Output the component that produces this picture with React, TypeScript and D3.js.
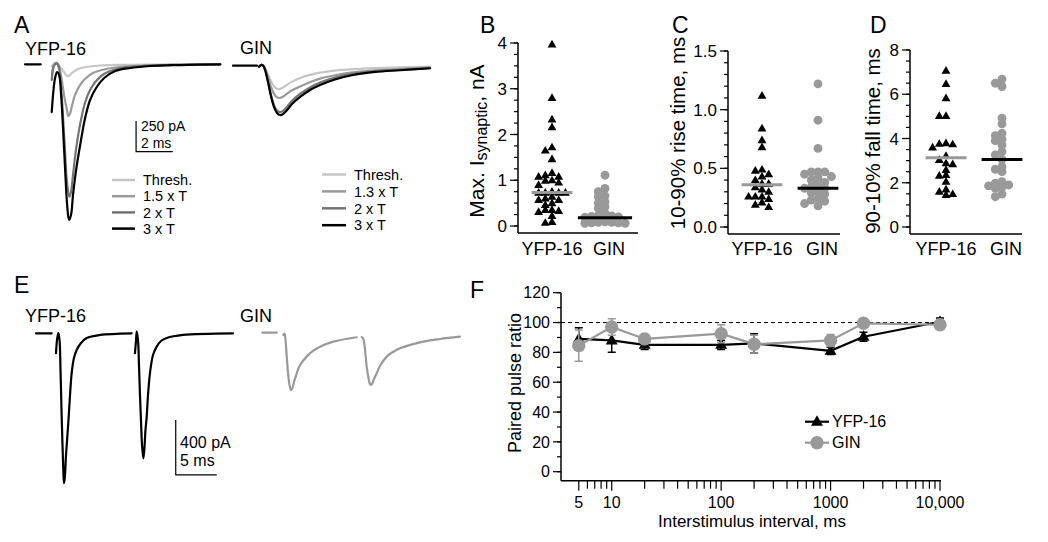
import React from 'react';
import * as d3 from 'd3';

const FONT = '"Liberation Sans", Arial, Helvetica, sans-serif';
const GRAY = '#999999';

// ---------- Panel A traces: [time ms, current pA] ----------
const A_YFP_BASE: [number, number][] = [[0, 0], [0.86, 0]];
const A_YFP_THRESH: [number, number][] = [[1.47, -14], [1.64, 11], [1.8, 2], [1.96, -30], [2.13, -63], [2.24, -87], [2.36, -95], [2.45, -87], [2.62, -63], [2.89, -38], [3.33, -22], [4.09, -10], [5.73, -4], [10.64, 0]];
const A_YFP_15T: [number, number][] = [[1.47, -95], [1.58, -6], [1.73, 11], [1.85, -14], [1.96, -87], [2.07, -193], [2.18, -291], [2.29, -372], [2.36, -421], [2.45, -405], [2.56, -340], [2.73, -250], [3.0, -169], [3.33, -112], [3.71, -71], [4.31, -42], [5.18, -22], [6.82, -8], [10.64, 0]];
const A_YFP_2T: [number, number][] = [[1.46, -128], [1.58, -14], [1.73, 7], [1.85, -30], [1.96, -169], [2.07, -413], [2.18, -698], [2.29, -959], [2.42, -1079], [2.51, -1041], [2.62, -902], [2.78, -698], [3.0, -495], [3.27, -315], [3.55, -209], [3.88, -136], [4.31, -79], [4.91, -42], [5.73, -22], [6.82, -10], [8.46, -4], [10.64, 0]];
const A_YFP_3T: [number, number][] = [[1.46, -389], [1.53, -250], [1.64, -112], [1.75, -63], [1.86, -87], [1.97, -250], [2.08, -535], [2.19, -861], [2.3, -1147], [2.4, -1269], [2.51, -1228], [2.62, -1065], [2.79, -861], [3.01, -658], [3.28, -438], [3.55, -291], [3.88, -193], [4.32, -112], [4.92, -55], [5.74, -30], [6.83, -14], [8.47, -6], [10.66, 0]];

const A_GIN_BASE: [number, number][] = [[0, 0], [1.31, 0]];
const A_GIN_TIMES = [1.42, 1.55, 1.64, 1.75, 1.91, 2.07, 2.24, 2.4, 2.56, 2.73, 2.95, 3.22, 3.66, 4.2, 4.75, 5.56, 6.55, 7.75, 9.11, 10.75];
const A_GIN_THRESH = [-5, 5, 1, -20, -70, -125, -168, -188, -190, -178, -155, -130, -100, -75, -57, -40, -28, -19, -13, -8];
const A_GIN_13T = [-6, 6, 2, -25, -90, -170, -230, -258, -263, -252, -228, -200, -170, -135, -105, -78, -55, -38, -26, -15];
const A_GIN_2T = [-8, 7, 2, -33, -127, -236, -322, -366, -378, -368, -335, -285, -230, -177, -138, -97, -65, -45, -33, -20];
const A_GIN_3T = [-8, 7, 2, -35, -133, -247, -337, -385, -402, -394, -361, -312, -255, -198, -157, -112, -76, -51, -37, -21];

const A_YFP_LEGEND = ['Thresh.', '1.5 x T', '2 x T', '3 x T'];
const A_GIN_LEGEND = ['Thresh.', '1.3 x T', '2 x T', '3 x T'];
const A_SHADES = ['#c6c6c6', '#9a9a9a', '#747474', '#000000'];

// ---------- Panel E traces ----------
const E_YFP_BASE: [number, number][] = [[0, 0], [1.91, 0]];
const E_YFP_P1: [number, number][] = [[2.44, -145], [2.56, -49], [2.72, 4], [2.87, -49], [2.99, -267], [3.11, -558], [3.23, -812], [3.33, -994], [3.41, -1090], [3.51, -1052], [3.66, -885], [3.94, -652], [4.15, -449], [4.35, -289], [4.63, -180], [4.96, -121], [5.49, -70], [6.18, -34], [7.8, -12], [11.67, 0]];
const E_YFP_P2: [number, number][] = [[12.07, -145], [12.2, -49], [12.28, 12], [12.44, -49], [12.56, -230], [12.68, -449], [12.8, -630], [12.93, -812], [13.09, -909], [13.21, -848], [13.35, -703], [13.5, -606], [13.66, -449], [13.9, -289], [14.27, -158], [14.72, -97], [15.24, -56], [15.94, -34], [17.93, -12], [24.02, 0]];
const E_GIN_BASE: [number, number][] = [[0, 0], [1.76, 0]];
const E_GIN_P1: [number, number][] = [[2.56, -17], [2.71, -6], [2.83, -53], [2.98, -174], [3.13, -286], [3.32, -380], [3.5, -417], [3.68, -402], [3.87, -358], [4.2, -295], [4.6, -235], [5.41, -174], [6.18, -133], [7.04, -102], [8.66, -65], [11.51, -33]];
const E_GIN_P2: [number, number][] = [[12.12, -33], [12.28, -39], [12.46, -89], [12.73, -247], [12.95, -329], [13.13, -373], [13.26, -380], [13.44, -366], [13.62, -337], [13.95, -295], [14.35, -242], [15.17, -174], [15.94, -140], [16.79, -113], [19.23, -70], [21.67, -46], [24.11, -29]];

// ---------- Panels B, C, D ----------
const CATEGORIES = ['YFP-16', 'GIN'];
const B_YFP = [3.97, 2.8, 2.33, 2.16, 1.72, 1.65, 1.46, 1.16, 1.11, 1.08, 1.08, 1.0, 0.99, 0.95, 0.9, 0.75, 0.73, 0.73, 0.73, 0.73, 0.64, 0.6, 0.57, 0.57, 0.5, 0.46, 0.35, 0.35, 0.33, 0.31, 0.22, 0.09, 0.07];
const B_GIN = [1.11, 0.82, 0.75, 0.66, 0.64, 0.53, 0.5, 0.42, 0.39, 0.28, 0.24, 0.22, 0.21, 0.2, 0.19, 0.09, 0.08, 0.08, 0.07, 0.07, 0.06, 0.06];
const B_MEDIANS = [0.73, 0.18];
const C_YFP = [1.12, 0.84, 0.74, 0.68, 0.49, 0.48, 0.45, 0.43, 0.4, 0.37, 0.37, 0.34, 0.32, 0.3, 0.26, 0.26, 0.26, 0.24, 0.21, 0.19, 0.17];
const C_GIN = [1.22, 0.91, 0.67, 0.47, 0.47, 0.47, 0.45, 0.43, 0.42, 0.4, 0.38, 0.37, 0.34, 0.33, 0.33, 0.3, 0.29, 0.28, 0.24, 0.23, 0.22, 0.2, 0.18];
const C_MEDIANS = [0.36, 0.33];
const D_YFP = [7.07, 6.47, 5.82, 5.02, 5.02, 3.79, 3.76, 3.74, 3.6, 3.21, 3.03, 2.88, 2.84, 2.58, 2.35, 2.32, 2.05, 1.7, 1.6, 1.49, 1.45];
const D_GIN = [6.68, 6.5, 6.35, 4.92, 4.66, 4.24, 4.13, 3.97, 3.9, 3.71, 3.41, 3.26, 3.06, 2.73, 2.61, 2.5, 2.05, 1.98, 1.9, 1.86, 1.8, 1.75, 1.49, 1.37];
const D_MEDIANS = [3.13, 3.05];

// ---------- Panel F ----------
const F_INTERVALS = [5, 10, 20, 100, 200, 1000, 2000, 10000];
const F_YFP_MEAN = [89, 88, 85, 85, 86, 81, 90.5, 100.5];
const F_YFP_SEM = [7.5, 8, 3, 3, 6.5, 2.5, 3, 2.5];
const F_GIN_MEAN = [84.5, 97, 89, 92.5, 85.5, 88, 99.5, 98.5];
const F_GIN_SEM = [10.5, 5.5, 3, 6, 6, 4, 2, 3];
const F_XLABELS: [number, string][] = [[5, '5'], [10, '10'], [100, '100'], [1000, '1000'], [10000, '10,000']];
const F_YTICKS = [0, 20, 40, 60, 80, 100, 120];

type Pt = [number, number];

function Trace({ data, xs, ys, color, w = 2.2 }: { data: Pt[]; xs: any; ys: any; color: string; w?: number }) {
  const line = d3.line<Pt>().x(d => xs(d[0])).y(d => ys(d[1])).curve(d3.curveCatmullRom.alpha(0.5));
  return <path d={line(data) || ''} fill="none" stroke={color} strokeWidth={w} strokeLinejoin="round" strokeLinecap="round" />;
}

const zip = (t: number[], v: number[]): Pt[] => t.map((x, i) => [x, v[i]]);

function dodge(vals: number[], y: (v: number) => number, minDy: number) {
  const idx = vals.map((_, i) => i).sort((a, b) => vals[b] - vals[a]);
  const placed: { o: number; y: number }[] = [];
  const out: { o: number; y: number }[] = new Array(vals.length);
  for (const i of idx) {
    const py = y(vals[i]);
    for (let k = 0; k < 30; k++) {
      const o = k === 0 ? 0 : k % 2 === 1 ? -Math.ceil(k / 2) : Math.ceil(k / 2);
      if (!placed.some(p => p.o === o && Math.abs(p.y - py) < minDy)) {
        placed.push({ o, y: py });
        out[i] = { o, y: py };
        break;
      }
    }
  }
  return out;
}

const triPath = (size: number) => d3.symbol(d3.symbolTriangle, size)() || '';
const circPath = (size: number) => d3.symbol(d3.symbolCircle, size)() || '';

interface DotCfg {
  letter: string; letterX: number;
  axisX: number; axisRight: number; yDomain: [number, number]; yRange: [number, number];
  majors: number[]; minorStep: number; fmt: (v: number) => string;
  centers: [number, number]; groups: number[][]; medians: number[];
  label: React.ReactNode; labelX: number; labelY: number; labelSize: number;
}

function DotPanel({ c }: { c: DotCfg }) {
  const y = d3.scaleLinear().domain(c.yDomain).range(c.yRange);
  const x = d3.scalePoint<string>().domain(CATEGORIES).range(c.centers);
  const minors = d3.range(c.yDomain[0], c.yDomain[1] + 1e-9, c.minorStep);
  const bottom = c.yRange[0] + 7;
  const step = 6.7;
  return (
    <g>
      <text x={c.letterX} y={33} fontSize={23} fontFamily={FONT}>{c.letter}</text>
      <line x1={c.axisX} x2={c.axisX} y1={c.yRange[1]} y2={bottom} stroke="#000" strokeWidth={1.5} />
      <line x1={c.axisX} x2={c.axisRight} y1={bottom} y2={bottom} stroke="#000" strokeWidth={1.5} />
      {minors.map((v, i) => <line key={'m' + i} x1={c.axisX - 4} x2={c.axisX} y1={y(v)} y2={y(v)} stroke="#000" strokeWidth={1.2} />)}
      {c.majors.map((v, i) => (
        <g key={'M' + i}>
          <line x1={c.axisX - 8} x2={c.axisX} y1={y(v)} y2={y(v)} stroke="#000" strokeWidth={1.2} />
          <text x={c.axisX - 11} y={y(v)} dy="0.36em" textAnchor="end" fontSize={17} fontFamily={FONT}>{c.fmt(v)}</text>
        </g>
      ))}
      {CATEGORIES.map((cat, gi) => {
        const vals = c.groups[gi];
        const pos = dodge(vals, y, 5);
        const maxO = d3.max(pos, p => Math.abs(p.o)) || 0;
        const half = maxO * step + 7;
        const cx = x(cat) as number;
        return (
          <g key={cat}>
            {pos.map((p, i) => gi === 0
              ? <path key={i} d={triPath(34)} transform={`translate(${cx + p.o * step},${p.y + 0.5})`} fill="#000" />
              : <path key={i} d={circPath(62)} transform={`translate(${cx + p.o * step},${p.y})`} fill={GRAY} />)}
            <line x1={cx - half} x2={cx + half} y1={y(c.medians[gi])} y2={y(c.medians[gi])} stroke={gi === 0 ? GRAY : '#000'} strokeWidth={3} />
            <text x={cx + (gi === 1 ? 4 : 0)} y={255} textAnchor="middle" fontSize={18} fontFamily={FONT}>{cat}</text>
          </g>
        );
      })}
      <text transform={`translate(${c.labelX},${c.labelY}) rotate(-90)`} textAnchor="middle" dominantBaseline="central" fontSize={c.labelSize} fontFamily={FONT}>{c.label}</text>
    </g>
  );
}

function PanelA() {
  const xY = d3.scaleLinear().domain([0, 10]).range([25, 25 + 183.3]);
  const yY = d3.scaleLinear().domain([0, -1000]).range([64.3, 64.3 + 122.7]);
  const xG = d3.scaleLinear().domain([0, 10]).range([233, 233 + 183.3]);
  const yG = d3.scaleLinear().domain([0, -1000]).range([65.7, 65.7 + 122.7]);
  const yfp = [A_YFP_THRESH, A_YFP_15T, A_YFP_2T, A_YFP_3T];
  const gin = [A_GIN_THRESH, A_GIN_13T, A_GIN_2T, A_GIN_3T].map(v => zip(A_GIN_TIMES, v));
  // scale bar: 250 pA, 2 ms
  const sbT = 6.06, sbI = -712;
  const sx = xY(sbT), sy = yY(sbI), sTop = yY(sbI + 250), sRight = xY(sbT + 2);
  return (
    <g>
      <text x={14} y={33} fontSize={23} fontFamily={FONT}>A</text>
      <text x={25} y={55} fontSize={18} fontFamily={FONT}>YFP-16</text>
      <text x={240} y={54} fontSize={18} fontFamily={FONT}>GIN</text>
      <Trace data={A_YFP_BASE} xs={xY} ys={yY} color="#000" />
      {yfp.map((d, i) => <Trace key={i} data={d} xs={xY} ys={yY} color={A_SHADES[i]} />)}
      <Trace data={A_GIN_BASE} xs={xG} ys={yG} color="#000" />
      {gin.map((d, i) => <Trace key={i} data={d} xs={xG} ys={yG} color={A_SHADES[i]} />)}
      <path d={`M${sx},${sTop}V${sy}H${sRight}`} fill="none" stroke="#000" strokeWidth={1.2} />
      <text x={141} y={131} fontSize={14} fontFamily={FONT}>250 pA</text>
      <text x={141} y={148} fontSize={14} fontFamily={FONT}>2 ms</text>
      {A_YFP_LEGEND.map((t, i) => (
        <g key={t}>
          <line x1={112} x2={135} y1={180 + i * 16.2} y2={180 + i * 16.2} stroke={A_SHADES[i]} strokeWidth={2.5} />
          <text x={143} y={180 + i * 16.2} dy="0.36em" fontSize={14.5} fontFamily={FONT}>{t}</text>
        </g>
      ))}
      {A_GIN_LEGEND.map((t, i) => (
        <g key={t}>
          <line x1={322} x2={346} y1={174.5 + i * 16.9} y2={174.5 + i * 16.9} stroke={A_SHADES[i]} strokeWidth={2.5} />
          <text x={354} y={174.5 + i * 16.9} dy="0.36em" fontSize={14.5} fontFamily={FONT}>{t}</text>
        </g>
      ))}
    </g>
  );
}

function PanelE() {
  const xY = d3.scaleLinear().domain([0, 10]).range([36, 118]);
  const yY = d3.scaleLinear().domain([0, -1000]).range([333.3, 333.3 + 137.5]);
  const xG = d3.scaleLinear().domain([0, 10]).range([262.3, 344.3]);
  const yG = d3.scaleLinear().domain([0, -1000]).range([332.7, 332.7 + 137.5]);
  const sbT = 17.04, sbI = -1030;
  const sx = xY(sbT), sy = yY(sbI), sTop = yY(sbI + 400), sRight = xY(sbT + 5);
  return (
    <g>
      <text x={14} y={293} fontSize={23} fontFamily={FONT}>E</text>
      <text x={25} y={321.7} fontSize={18} fontFamily={FONT}>YFP-16</text>
      <text x={240} y={321.7} fontSize={18} fontFamily={FONT}>GIN</text>
      <Trace data={E_YFP_BASE} xs={xY} ys={yY} color="#000" />
      <Trace data={E_YFP_P1} xs={xY} ys={yY} color="#000" />
      <Trace data={E_YFP_P2} xs={xY} ys={yY} color="#000" />
      <Trace data={E_GIN_BASE} xs={xG} ys={yG} color={GRAY} />
      <Trace data={E_GIN_P1} xs={xG} ys={yG} color={GRAY} />
      <Trace data={E_GIN_P2} xs={xG} ys={yG} color={GRAY} />
      <path d={`M${sx},${sTop}V${sy}H${sRight}`} fill="none" stroke="#000" strokeWidth={1.2} />
      <text x={180} y={448} fontSize={16} fontFamily={FONT}>400 pA</text>
      <text x={180} y={466} fontSize={16} fontFamily={FONT}>5 ms</text>
    </g>
  );
}

function PanelF() {
  const x = d3.scaleLog().domain([3.44, 10000]).range([561, 940]);
  const y = d3.scaleLinear().domain([0, 120]).range([471.7, 292.7]);
  const axisY = 480.7;
  const ticks: number[] = [];
  [1, 10, 100, 1000].forEach(dec => d3.range(1, 10).forEach(m => { const v = m * dec; if (v >= 5) ticks.push(v); }));
  ticks.push(10000);
  const majorSet = new Set([5, 10, 100, 1000, 10000]);
  const minorsY = d3.range(0, 121, 10);
  const line = d3.line<number>().x((_, i) => x(F_INTERVALS[i])).y(d => y(d));
  const series = [
    { mean: F_YFP_MEAN, sem: F_YFP_SEM, color: '#000', tri: true },
    { mean: F_GIN_MEAN, sem: F_GIN_SEM, color: GRAY, tri: false },
  ];
  return (
    <g>
      <text x={470} y={298} fontSize={23} fontFamily={FONT}>F</text>
      <line x1={561} x2={561} y1={y(120)} y2={axisY} stroke="#000" strokeWidth={1.5} />
      <line x1={561} x2={941} y1={axisY} y2={axisY} stroke="#000" strokeWidth={1.5} />
      {minorsY.map(v => <line key={'my' + v} x1={557} x2={561} y1={y(v)} y2={y(v)} stroke="#000" strokeWidth={1.2} />)}
      {F_YTICKS.map(v => (
        <g key={'y' + v}>
          <line x1={553} x2={561} y1={y(v)} y2={y(v)} stroke="#000" strokeWidth={1.2} />
          <text x={552} y={y(v)} dy="0.36em" textAnchor="end" fontSize={16} fontFamily={FONT} dx={-2}>{v}</text>
        </g>
      ))}
      {ticks.map(v => <line key={'x' + v} x1={x(v)} x2={x(v)} y1={axisY} y2={axisY + (majorSet.has(v) ? 10 : 8)} stroke="#000" strokeWidth={1.2} />)}
      {F_XLABELS.map(([v, s]) => <text key={s} x={x(v)} y={508} textAnchor="middle" fontSize={16} fontFamily={FONT}>{s}</text>)}
      <text x={752} y={527} textAnchor="middle" fontSize={17} fontFamily={FONT}>Interstimulus interval, ms</text>
      <text transform={`translate(515,383) rotate(-90)`} textAnchor="middle" dominantBaseline="central" fontSize={18} fontFamily={FONT}>Paired pulse ratio</text>
      <line x1={561} x2={940} y1={y(100)} y2={y(100)} stroke="#000" strokeWidth={1} strokeDasharray="4,3" />
      {series.map((s, si) => (
        <g key={si}>
          <path d={line(s.mean) || ''} fill="none" stroke={s.color} strokeWidth={2.2} />
          {s.mean.map((m, i) => {
            const cx = x(F_INTERVALS[i]);
            return (
              <g key={i}>
                <path d={`M${cx},${y(m - s.sem[i])}V${y(m + s.sem[i])}M${cx - 4},${y(m - s.sem[i])}H${cx + 4}M${cx - 4},${y(m + s.sem[i])}H${cx + 4}`} stroke={s.color} strokeWidth={1.5} fill="none" />
                {s.tri
                  ? <path d={triPath(62)} transform={`translate(${cx},${y(m) + 0.5})`} fill={s.color} />
                  : <path d={circPath(140)} transform={`translate(${cx},${y(m)})`} fill={s.color} />}
              </g>
            );
          })}
        </g>
      ))}
      {/* legend */}
      <line x1={805} x2={829} y1={421.7} y2={421.7} stroke="#000" strokeWidth={2.2} />
      <path d={triPath(62)} transform="translate(817,422.2)" fill="#000" />
      <text x={832} y={421.7} dy="0.36em" fontSize={16} fontFamily={FONT}>YFP-16</text>
      <line x1={805} x2={829} y1={442.7} y2={442.7} stroke={GRAY} strokeWidth={2.2} />
      <path d={circPath(140)} transform="translate(817,442.7)" fill={GRAY} />
      <text x={832} y={442.7} dy="0.36em" fontSize={16} fontFamily={FONT}>GIN</text>
    </g>
  );
}

const fmt1 = (v: number) => d3.format('.1f')(v);
const fmt0 = (v: number) => String(v);

export default function App() {
  const B: DotCfg = {
    letter: 'B', letterX: 480, axisX: 518, axisRight: 638, yDomain: [0, 4], yRange: [226, 43],
    majors: [0, 1, 2, 3, 4], minorStep: 0.25, fmt: fmt0, centers: [552, 605], groups: [B_YFP, B_GIN], medians: B_MEDIANS,
    label: <>Max. I<tspan fontSize={16} dy={5}>synaptic</tspan><tspan dy={-5}>, nA</tspan></>, labelX: 476, labelY: 141, labelSize: 21,
  };
  const C: DotCfg = {
    letter: 'C', letterX: 672, axisX: 728, axisRight: 840, yDomain: [0, 1.5], yRange: [227, 51],
    majors: [0, 0.5, 1, 1.5], minorStep: 0.1, fmt: fmt1, centers: [762, 818], groups: [C_YFP, C_GIN], medians: C_MEDIANS,
    label: '10-90% rise time, ms', labelX: 677, labelY: 133, labelSize: 20.5,
  };
  const D: DotCfg = {
    letter: 'D', letterX: 870, axisX: 910, axisRight: 1022, yDomain: [0, 8], yRange: [227, 50],
    majors: [0, 2, 4, 6, 8], minorStep: 0.5, fmt: fmt0, centers: [946, 1002], groups: [D_YFP, D_GIN], medians: D_MEDIANS,
    label: '90-10% fall time, ms', labelX: 872, labelY: 141, labelSize: 20.5,
  };
  return (
    <svg width={1048} height={542} style={{ position: 'absolute', left: 0, top: 0, background: '#fff' }}>
      <rect width={1048} height={542} fill="#fff" />
      <PanelA />
      <DotPanel c={B} />
      <DotPanel c={C} />
      <DotPanel c={D} />
      <PanelE />
      <PanelF />
    </svg>
  );
}
